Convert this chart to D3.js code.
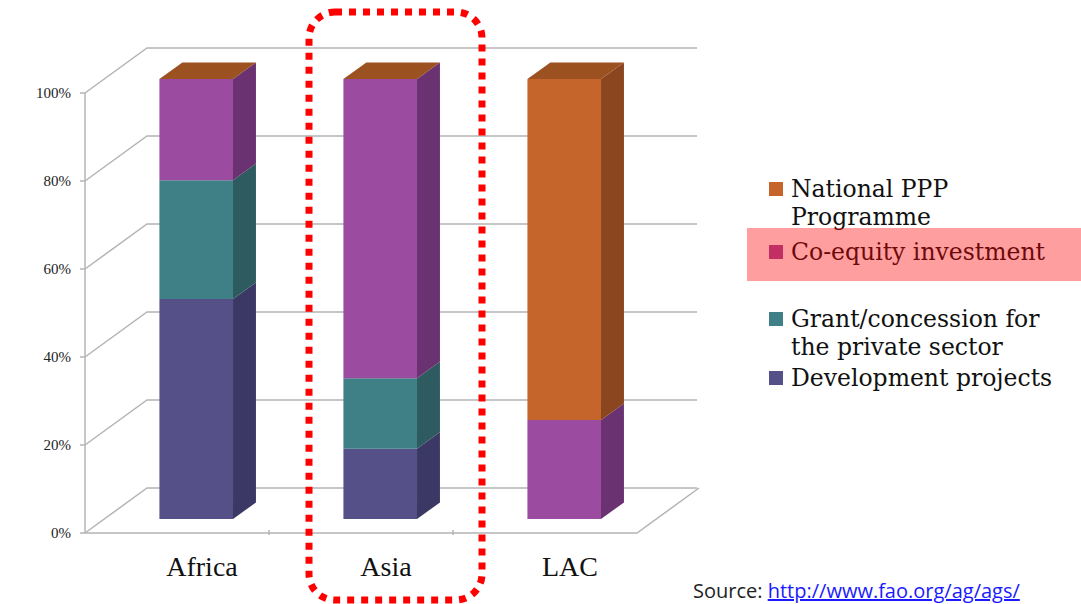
<!DOCTYPE html>
<html>
<head>
<meta charset="utf-8">
<script src="https://cdn.jsdelivr.net/npm/d3@7"></script>
<style>
  body { margin: 0; background: #fff; }
  svg { display: block; }
</style>
</head>
<body>
<div id="chart"></div>
<script>
// Chart data
const regions = ["Africa", "Asia", "LAC"];
const seriesNames = ["Development projects", "Grant/concession for the private sector", "Co-equity investment", "National PPP Programme"];
const devProjects = [50, 16, 0];
const grantConcession = [27, 16, 0];
const coEquity = [23, 68, 22.5];
const nationalPPP = [0, 0, 77.5];
const yTicks = [0, 20, 40, 60, 80, 100];
const yTickLabels = ["0%", "20%", "40%", "60%", "80%", "100%"];

const width = 1081, height = 604;

// 3D box: front plane and depth shift
const depthX = 62, depthY = -45;
const barD0 = 0.31, barD1 = 0.68;

const frontColors = ["#565089", "#3f7f86", "#9b4ca0", "#c6652b"];
const sideColors  = ["#3b3866", "#2d5b5f", "#6a3270", "#8b4620"];
const topColor = "#9c5121";

const svg = d3.select("#chart").append("svg")
  .attr("width", width)
  .attr("height", height);

const x = d3.scaleBand()
  .domain(regions)
  .range([85, 637])
  .paddingInner(0.6)
  .paddingOuter(0.3);

const y = d3.scaleLinear()
  .domain([0, 100])
  .range([533, 93]);

// project a point at depth d (0 = front, 1 = back wall)
const P = (px, py, d) => [px + d * depthX, py + d * depthY];
const poly = pts => pts.map(p => p.join(",")).join(" ");

/* Walls & gridlines */
const grid = svg.append("g")
  .attr("fill", "none")
  .attr("stroke", "#b4b4b4")
  .attr("stroke-width", 1.5);

yTicks.forEach(t => {
  const a = P(85, y(t), 0), b = P(85, y(t), 1);
  grid.append("polyline")
    .attr("points", poly([a, b, [697, b[1]]]));
  grid.append("line")
    .attr("x1", 80).attr("x2", 85)
    .attr("y1", y(t)).attr("y2", y(t));
});

// front axis line
grid.append("line")
  .attr("x1", 85).attr("x2", 85)
  .attr("y1", y(100)).attr("y2", y(0));

// floor edges
const fr = P(637, y(0), 0), br = P(637, y(0), 1);
grid.append("polyline")
  .attr("points", poly([[85, y(0)], fr, br]));

// category tick marks on the floor edge
regions.slice(1).forEach(r => {
  const xx = x(r) - (x.step() - x.bandwidth()) / 2;
  grid.append("line")
    .attr("x1", xx).attr("x2", xx)
    .attr("y1", y(0) - 3).attr("y2", y(0) + 2);
});

// y labels
svg.append("g").selectAll("text")
  .data(yTicks)
  .enter().append("text")
  .attr("x", 71)
  .attr("y", d => y(d) + 5)
  .attr("text-anchor", "end")
  .attr("font-family", "Liberation Serif, serif")
  .attr("font-size", 15)
  .attr("fill", "#222")
  .text((d, i) => yTickLabels[i]);

/* Bars */
const allSeries = [devProjects, grantConcession, coEquity, nationalPPP];

const bars = svg.append("g");
regions.forEach((r, ri) => {
  const x0 = x(r), x1 = x(r) + x.bandwidth();
  let base = 0;
  allSeries.forEach((s, si) => {
    const v = s[ri];
    if (v <= 0) return;
    const yb = y(base), yt = y(base + v);
    // front face
    bars.append("polygon")
      .attr("points", poly([P(x0, yb, barD0), P(x1, yb, barD0), P(x1, yt, barD0), P(x0, yt, barD0)]))
      .attr("fill", frontColors[si]);
    // right side face
    bars.append("polygon")
      .attr("points", poly([P(x1, yb, barD0), P(x1, yb, barD1), P(x1, yt, barD1), P(x1, yt, barD0)]))
      .attr("fill", sideColors[si]);
    base += v;
  });
  // top face
  const yt = y(base);
  bars.append("polygon")
    .attr("points", poly([P(x0, yt, barD0), P(x1, yt, barD0), P(x1, yt, barD1), P(x0, yt, barD1)]))
    .attr("fill", topColor);
});

// category labels
svg.append("g").selectAll("text")
  .data(regions)
  .enter().append("text")
  .attr("x", d => x(d) + x.bandwidth() / 2 + 25)
  .attr("y", 576)
  .attr("text-anchor", "middle")
  .attr("font-family", "Liberation Serif, serif")
  .attr("font-size", 28)
  .attr("fill", "#111")
  .text(d => d);

/* Legend */
const legendItems = [
  {si: 3, lines: ["National PPP", "Programme"], y: 197},
  {si: 2, lines: ["Co-equity investment"], y: 260},
  {si: 1, lines: ["Grant/concession for", "the private sector"], y: 327},
  {si: 0, lines: ["Development projects"], y: 386}
];

const legend = svg.append("g")
  .attr("font-family", "DejaVu Serif, serif")
  .attr("font-size", 23.5)
  .attr("fill", "#111");

legendItems.forEach(item => {
  legend.append("rect")
    .attr("x", 769).attr("y", item.y - 15)
    .attr("width", 14).attr("height", 14)
    .attr("fill", frontColors[item.si]);
  const t = legend.append("text")
    .attr("x", 791)
    .attr("y", item.y);
  item.lines.forEach((ln, i) => {
    t.append("tspan")
      .attr("x", 791)
      .attr("dy", i === 0 ? 0 : 28)
      .text(ln);
  });
});

// highlight over co-equity entry
svg.append("rect")
  .attr("x", 747).attr("y", 228)
  .attr("width", 334).attr("height", 53)
  .attr("fill", "rgba(255,0,0,0.38)");

// dashed box around Asia
svg.append("rect")
  .attr("x", 309).attr("y", 12)
  .attr("width", 173).attr("height", 588)
  .attr("rx", 26)
  .attr("fill", "none")
  .attr("stroke", "#f00")
  .attr("stroke-width", 7)
  .attr("stroke-dasharray", "7 7");

// source line
const src = svg.append("text")
  .attr("x", 693).attr("y", 598)
  .attr("font-family", "Open Sans, sans-serif")
  .attr("font-size", 20);
src.append("tspan").attr("fill", "#222").text("Source: ");
src.append("tspan").attr("fill", "#1a1aff")
  .attr("text-decoration", "underline")
  .text("http://www.fao.org/ag/ags/");
</script>
</body>
</html>
